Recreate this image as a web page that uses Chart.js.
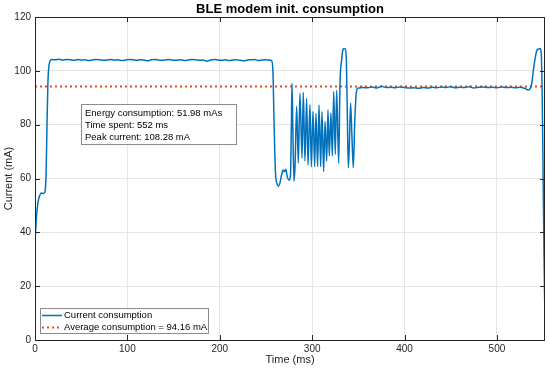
<!DOCTYPE html>
<html>
<head>
<meta charset="utf-8">
<script src="https://cdn.jsdelivr.net/npm/chart.js@4.4.1/dist/chart.umd.min.js"></script>
<style>
  html, body { margin: 0; padding: 0; background: #fff; }
  #wrap { width: 550px; height: 369px; }
</style>
</head>
<body>
<div id="wrap"><canvas id="currentChart" width="550" height="369"></canvas></div>
<script>
const chartTitle = "BLE modem init. consumption";
const infoLines = ["Energy consumption: 51.98 mAs", "Time spent: 552 ms", "Peak current: 108.28 mA"];
const seriesLabels = ["Current consumption", "Average consumption = 94.16 mA"];
const averageCurrent = 94.16;
const xTicks = [0, 100, 200, 300, 400, 500];
const yTicks = [0, 20, 40, 60, 80, 100, 120];

// time (ms) and current (mA)
const timeMs = [
  0, 1, 2, 3, 4, 5, 6, 7, 8, 9, 10, 11, 12, 13, 14, 15, 16, 17, 18,
  22, 26, 30, 34, 38, 42, 46, 50, 54, 58, 62, 66, 70, 74, 78, 82, 86, 90, 94, 98,
  102, 106, 110, 114, 118, 122, 126, 130, 134, 138, 142, 146, 150, 154, 158, 162,
  166, 170, 174, 178, 182, 186, 190, 194, 198, 202, 206, 210, 214, 218, 222, 226,
  230, 234, 238, 242, 246, 250, 254, 256,
  257.5, 258.5, 259.5, 260.5, 262, 263.5, 265, 267, 268.5, 270, 271.5, 273, 275, 276.5,
  277.5, 278.2, 279, 280.3, 281.5, 283.2, 285, 286.8, 289, 290.4, 292.2, 294, 295.5,
  297.6, 299.1, 300.9, 302.7, 304.1, 305.9, 307.4, 309.2, 310.6, 312.4, 313.9, 315.7,
  317.1, 318.5, 320.3, 321.8, 323.3, 325, 326.5, 328.7, 330.1, 331.9, 333.2, 334.5,
  335.8, 337, 338, 339.1, 340.2, 341.6, 343, 344.5, 346, 347.5, 349, 350.5,
  355, 360, 365, 370, 375, 380, 385, 390, 395, 400, 405, 410, 415, 420, 425, 430,
  435, 440, 445, 450, 455, 460, 465, 470, 475, 480, 485, 490, 495, 500, 505, 510,
  515, 520, 525, 530, 534, 536, 538, 539.5, 541, 543, 545, 547, 548, 549, 550, 551, 552
];
const currentMa = [
  37.0, 42.5, 47.5, 50.5, 52.5, 53.6, 54.3, 54.6, 54.5, 54.4, 54.6, 55.5, 62, 80, 96, 101.5, 103.4, 104.0, 104.2,
  104.1, 104.3, 104.0, 104.2, 104.1, 103.9, 104.2, 104.0, 104.1, 103.8, 104.0, 104.2, 104.1, 103.9, 104.0, 104.2, 104.0, 104.1, 103.8, 104.0,
  104.2, 104.1, 103.9, 104.1, 104.0, 103.7, 104.1, 104.2, 104.0, 103.9, 104.1, 104.2, 103.9, 104.0, 104.1, 103.8,
  104.0, 104.2, 104.1, 103.9, 104.0, 103.6, 104.0, 104.2, 104.0, 103.9, 104.1, 103.8, 104.0, 104.1, 103.9, 103.7,
  104.0, 104.1, 104.2, 103.8, 104.0, 104.1, 104.0, 103.8,
  100, 85, 70, 61, 58, 57.2, 58.2, 61.5, 63.2, 62.5, 63.4, 60.7, 59.4, 61,
  80, 95.4, 80, 59, 65, 86.8, 65.8, 91.7, 67.6, 92, 66.5, 89.8, 65,
  87.4, 64.4, 84.9, 64.4, 84.2, 64.4, 87.3, 64.4, 84.9, 62.6, 81.2, 66.5,
  85.5, 68.4, 84.3, 68.4, 92.3, 69, 92.8, 65.7, 95, 104, 107.8, 108.3,
  108.2, 104, 85, 64, 72, 88, 76, 64, 80, 91, 93.4, 93.6,
  93.8, 93.7, 94.0, 93.6, 94.3, 93.8, 93.9, 93.7, 94.0, 93.8, 93.6, 93.7, 93.5, 93.8, 93.6, 93.9,
  93.7, 94.0, 93.8, 94.1, 93.7, 93.9, 93.8, 94.1, 93.6, 93.9, 94.0, 93.8, 93.9, 93.7, 94.0, 93.8,
  93.9, 93.7, 93.9, 93.5, 92.9, 93.4, 96, 100.5, 104, 107.4, 108.1, 108.3, 106, 90, 60, 30, 7
];

const FONT = "'Liberation Sans', Arial, Helvetica, sans-serif";
const BLUE = "#0072BD";
const ORANGE = "#D95319";
const AXIS = "#262626";

// box, inner ticks, title, info box, legend
const decorations = {
  id: "decorations",
  afterDraw(chart) {
    const ctx = chart.ctx;
    const a = chart.chartArea;
    const xs = chart.scales.x, ys = chart.scales.y;
    ctx.save();
    ctx.strokeStyle = AXIS;
    ctx.lineWidth = 1;
    ctx.strokeRect(Math.round(a.left) + 0.5, Math.round(a.top) + 0.5,
                   Math.round(a.right - a.left) - 1, Math.round(a.bottom - a.top));
    ctx.beginPath();
    xTicks.forEach(v => {
      const px = Math.round(xs.getPixelForValue(v)) + 0.5;
      ctx.moveTo(px, a.bottom); ctx.lineTo(px, a.bottom - 5);
      ctx.moveTo(px, a.top); ctx.lineTo(px, a.top + 5);
    });
    yTicks.forEach(v => {
      const py = Math.round(ys.getPixelForValue(v)) + 0.5;
      ctx.moveTo(a.left, py); ctx.lineTo(a.left + 5, py);
      ctx.moveTo(a.right, py); ctx.lineTo(a.right - 5, py);
    });
    ctx.stroke();

    ctx.fillStyle = "#000";
    ctx.font = "bold 13px " + FONT;
    ctx.textAlign = "center";
    ctx.textBaseline = "middle";
    ctx.fillText(chartTitle, (a.left + a.right) / 2, 9);

    // info box
    ctx.fillStyle = "#fff";
    ctx.fillRect(82, 105, 155, 40);
    ctx.strokeStyle = "#8c8c8c";
    ctx.strokeRect(81.5, 104.5, 155, 40);
    ctx.fillStyle = "#000";
    ctx.font = "9.5px " + FONT;
    ctx.textAlign = "left";
    infoLines.forEach((t, i) => ctx.fillText(t, 85, 113.5 + i * 12));

    // legend
    ctx.fillStyle = "#fff";
    ctx.fillRect(40, 308, 168, 25);
    ctx.strokeStyle = "#8c8c8c";
    ctx.strokeRect(40.5, 308.5, 168, 25);
    chart.data.datasets.forEach((ds, i) => {
      const y = 315 + i * 12;
      ctx.strokeStyle = ds.borderColor;
      ctx.lineWidth = ds.borderWidth;
      ctx.setLineDash(ds.borderDash || []);
      ctx.beginPath();
      ctx.moveTo(42, y + 0.5); ctx.lineTo(62, y + 0.5);
      ctx.stroke();
      ctx.setLineDash([]);
      ctx.fillStyle = "#000";
      ctx.fillText(ds.label, 64, y + 0.5);
    });
    ctx.restore();
  }
};

new Chart(document.getElementById("currentChart"), {
  type: "line",
  data: {
    datasets: [
      {
        label: seriesLabels[0],
        data: timeMs.map((t, i) => ({ x: t, y: currentMa[i] })),
        borderColor: BLUE,
        borderWidth: 1.5,
        pointRadius: 0,
        cubicInterpolationMode: "monotone",
        fill: false
      },
      {
        label: seriesLabels[1],
        data: [{ x: 0, y: averageCurrent }, { x: 552, y: averageCurrent }],
        borderColor: ORANGE,
        borderWidth: 2,
        borderDash: [2, 3],
        pointRadius: 0,
        fill: false
      }
    ]
  },
  options: {
    responsive: false,
    animation: false,
    layout: { padding: { top: 17, right: 5, left: 0, bottom: 0 } },
    plugins: { legend: { display: false }, tooltip: { enabled: false }, title: { display: false } },
    scales: {
      x: {
        type: "linear",
        min: 0,
        max: 552,
        afterFit: s => { s.height = 29; },
        afterBuildTicks: s => { s.ticks = xTicks.map(v => ({ value: v })); },
        grid: { color: "#e6e6e6", drawTicks: false },
        border: { display: false },
        ticks: { padding: 3, color: "#262626", font: { family: FONT, size: 10 }, maxRotation: 0 },
        title: { display: true, text: "Time (ms)", color: "#262626", font: { family: FONT, size: 11 }, padding: { top: 0, bottom: 2 } }
      },
      y: {
        min: 0,
        max: 120,
        afterFit: s => { s.width = 35; },
        afterBuildTicks: s => { s.ticks = yTicks.map(v => ({ value: v })); },
        grid: { color: "#e6e6e6", drawTicks: false },
        border: { display: false },
        ticks: { padding: 4, color: "#262626", font: { family: FONT, size: 10 } },
        title: { display: true, text: "Current (mA)", color: "#262626", font: { family: FONT, size: 11 }, padding: { top: 2, bottom: 0 } }
      }
    }
  },
  plugins: [decorations]
});
</script>
</body>
</html>
